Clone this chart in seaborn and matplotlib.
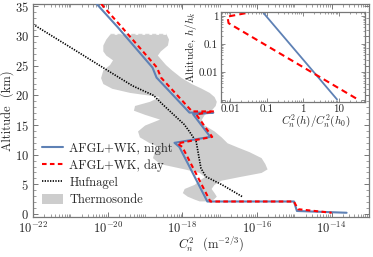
import numpy as np
import pandas as pd
import matplotlib
matplotlib.use("Agg")
import matplotlib.pyplot as plt
import matplotlib.ticker as mticker
from matplotlib.lines import Line2D
from matplotlib.patches import Patch
import seaborn as sns

# ---------------- data (log10 of Cn^2, altitude in km) ----------------
night_km = [35.4, 31.5, 24.7, 23.0, 17.1, 17.1, 16.8, 13.0, 12.0, 11.3, 2.1, 2.1, 0.5, 0.2]
night_log = [-20.29, -19.73, -18.80, -18.69, -17.81, -17.17, -17.71, -17.25, -18.21, -18.08,
             -17.33, -15.01, -14.93, -13.60]

day_km = [35.4, 31.5, 24.7, 23.0, 17.3, 17.3, 16.8, 13.0, 11.9, 11.3, 2.1, 2.1, 0.8, 0.2]
day_log = [-20.17, -19.62, -18.68, -18.57, -17.74, -17.15, -17.63, -17.20, -18.13, -18.00,
           -17.25, -15.01, -14.90, -14.00]

huf_km = [32.0, 28.0, 24.0, 21.6, 20.0, 18.5, 16.5, 15.1, 13.9, 12.2, 11.2, 9.4, 7.7, 6.3, 4.9, 2.9]
huf_log = [-22.0, -20.97, -19.95, -19.33, -18.77, -18.53, -18.19, -17.95, -17.81, -17.63,
           -17.60, -17.55, -17.50, -17.37, -16.93, -16.39]

band_km = [30.3, 29.5, 28.5, 27.5, 26.8, 26.0, 25.2, 24.3, 23.0, 22.0, 21.2, 20.5, 19.8, 19.0,
           18.3, 17.5, 16.8, 16.0, 15.0, 14.0, 13.0, 12.0, 11.3, 10.5, 9.5, 8.5, 7.6, 7.0,
           6.3, 5.7, 5.0, 4.3, 3.6, 3.0, 2.5, 2.2]
band_lo = [-19.95, -20.05, -20.13, -20.13, -20.05, -19.87, -19.95, -20.13, -20.19, -20.13,
           -19.89, -19.41, -18.61, -18.88, -19.28, -19.31, -19.01, -18.61, -19.01, -19.20,
           -19.15, -18.88, -18.61, -18.75, -18.80, -18.61, -17.95, -17.55, -17.41, -17.55,
           -17.68, -17.95, -18.00, -17.87, -17.68, -17.55]
band_hi = [-18.43, -18.37, -18.40, -18.59, -18.67, -18.56, -18.45, -18.29, -18.03, -17.76,
           -17.49, -17.28, -17.15, -17.09, -17.12, -17.23, -17.41, -17.49, -17.41, -17.15,
           -16.96, -16.80, -16.53, -16.21, -15.89, -15.79, -15.73, -15.89, -16.48, -16.96,
           -17.15, -17.23, -17.15, -17.09, -17.17, -17.33]

# inset (normalised)
in_night_c = [0.083, 8.8]
in_night_h = [1.24, 0.00107]
in_day_c = [0.026, 0.0083, 0.0089, 33.0]
in_day_h = [1.24, 0.94, 0.55, 0.00107]

legend_labels = ["AFGL+WK, night", "AFGL+WK, day", "Hufnagel", "Thermosonde"]

# ---------------- style ----------------
sns.set_theme(style="ticks")
plt.rcParams.update({
    "font.family": "serif",
    "font.serif": ["cmr10", "DejaVu Serif"],
    "mathtext.fontset": "cm",
    "axes.formatter.use_mathtext": True,
    "axes.unicode_minus": False,
    "font.size": 9,
    "axes.edgecolor": "#777777",
    "axes.linewidth": 0.9,
})

BLUE = "#5E81B5"
RED = "#FF0000"
GRAY = "#CDCDCD"
DASH_RED = (0, (2.2, 1.6))
DOT_BLK = (0, (0.8, 0.8))

fig = plt.figure(figsize=(3.73, 2.57), dpi=100)
ax = fig.add_axes([0.0885, 0.156, 0.9007, 0.828])

# thermosonde band
ax.fill_betweenx(band_km, 10.0 ** np.array(band_lo), 10.0 ** np.array(band_hi),
                 color=GRAY, lw=0, zorder=1)
ax.plot([10.0 ** band_lo[0], 10.0 ** band_hi[0]], [band_km[0], band_km[0]],
        color="#d2d2d2", lw=1.0, ls=(0, (3, 2)), zorder=1)

df_n = pd.DataFrame({"c": 10.0 ** np.array(night_log), "h": night_km})
df_d = pd.DataFrame({"c": 10.0 ** np.array(day_log), "h": day_km})
df_h = pd.DataFrame({"c": 10.0 ** np.array(huf_log), "h": huf_km})

sns.lineplot(data=df_n, x="c", y="h", sort=False, estimator=None, ax=ax,
             color=BLUE, lw=1.5, zorder=3)
sns.lineplot(data=df_d, x="c", y="h", sort=False, estimator=None, ax=ax,
             color=RED, lw=1.5, ls=DASH_RED, zorder=4)
sns.lineplot(data=df_h, x="c", y="h", sort=False, estimator=None, ax=ax,
             color="black", lw=1.2, ls=DOT_BLK, zorder=2)

ax.set_xscale("log")
ax.set_xlim(1e-22, 1e-13)
ax.set_ylim(-0.5, 35.4)
ax.set_xticks([1e-22, 1e-20, 1e-18, 1e-16, 1e-14])
ax.set_xticklabels([r"$10^{-22}$", r"$10^{-20}$", r"$10^{-18}$", r"$10^{-16}$", r"$10^{-14}$"])
ax.xaxis.set_minor_locator(mticker.LogLocator(base=10, subs=np.arange(1, 10), numticks=200))
ax.xaxis.set_minor_formatter(mticker.NullFormatter())
ax.yaxis.set_major_locator(mticker.MultipleLocator(5))
ax.yaxis.set_minor_locator(mticker.MultipleLocator(1))
ax.tick_params(which="both", direction="in", top=True, right=True, color="#777777",
               labelsize=9, pad=3)
ax.tick_params(which="major", length=3.5, width=0.7)
ax.tick_params(which="minor", length=2, width=0.5)
ax.set_xlabel(r"$C_n^2$  (m$^{-2/3}$)", fontsize=9, labelpad=1)
ax.xaxis.set_label_coords(0.53, -0.085)
ax.set_ylabel("Altitude  (km)", fontsize=9, labelpad=2)
ax.yaxis.set_label_coords(-0.058, 0.5)

handles = [Line2D([], [], color=BLUE, lw=1.5),
           Line2D([], [], color=RED, lw=1.5, ls=DASH_RED),
           Line2D([], [], color="black", lw=1.2, ls=DOT_BLK),
           Patch(facecolor=GRAY, edgecolor="none")]
ax.legend(handles, legend_labels, loc="lower left", bbox_to_anchor=(0.0, 0.008),
          frameon=False, fontsize=9, handlelength=1.7, handletextpad=0.5,
          labelspacing=0.38, borderaxespad=0.3, handleheight=0.9)

# ---------------- inset ----------------
ins = fig.add_axes([0.5925, 0.6043, 0.386, 0.350])
ins.set_facecolor("white")
dfi_n = pd.DataFrame({"c": in_night_c, "h": in_night_h})
dfi_d = pd.DataFrame({"c": in_day_c, "h": in_day_h})
sns.lineplot(data=dfi_n, x="c", y="h", sort=False, estimator=None, ax=ins,
             color=BLUE, lw=1.3)
sns.lineplot(data=dfi_d, x="c", y="h", sort=False, estimator=None, ax=ins,
             color=RED, lw=1.5, ls=(0, (3, 2)))
ins.set_xscale("log")
ins.set_yscale("log")
ins.set_xlim(0.0055, 52)
ins.set_ylim(0.00089, 1.4)
ins.set_xticks([0.01, 0.1, 1, 10])
ins.set_xticklabels(["0.01", "0.1", "1", "10"])
ins.set_yticks([0.001, 0.01, 0.1, 1])
ins.set_yticklabels(["", "0.01", "0.1", "1"])
ins.xaxis.set_minor_locator(mticker.LogLocator(base=10, subs=np.arange(2, 10), numticks=50))
ins.yaxis.set_minor_locator(mticker.LogLocator(base=10, subs=np.arange(2, 10), numticks=50))
ins.xaxis.set_minor_formatter(mticker.NullFormatter())
ins.yaxis.set_minor_formatter(mticker.NullFormatter())
ins.tick_params(which="both", direction="in", top=True, right=True, color="#777777",
                labelsize=8, pad=2)
ins.tick_params(which="major", length=3, width=0.6)
ins.tick_params(which="minor", length=1.5, width=0.5)
ins.set_xlabel(r"$C_n^2(h)/C_n^2(h_0)$", fontsize=8, labelpad=1)
ins.xaxis.set_label_coords(0.66, -0.12)
ins.set_ylabel(r"Altitude, $h/h_k$", fontsize=8, labelpad=1)
ins.yaxis.set_label_coords(-0.15, 0.6)

fig.savefig("out.png", dpi=100)
